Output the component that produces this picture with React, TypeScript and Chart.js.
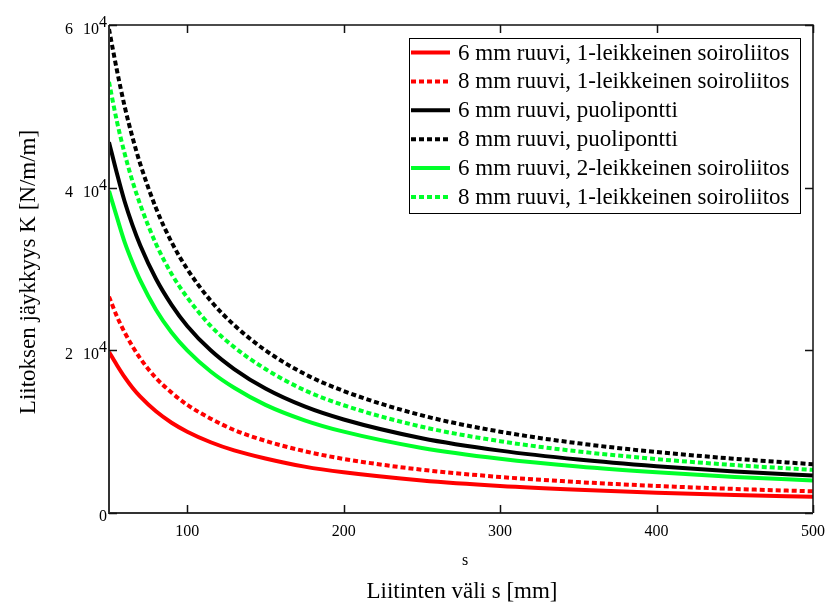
import React, { useEffect, useRef } from 'react';
import { Chart, registerables } from 'chart.js';

Chart.register(...registerables);

// Spacing between fasteners s [mm]
const sValues = [50, 55, 60, 65, 70, 80, 90, 100, 115, 130, 150, 175, 200, 250, 300, 350, 400, 450, 500];

// Stiffness K [N/m/m]
const red6 = [19800, 18200, 16700, 15400, 14300, 12500, 11100, 10000, 8700, 7700, 6700, 5700, 5000, 4000, 3330, 2860, 2500, 2220, 2000];
const red8 = [26600, 24200, 22200, 20500, 19000, 16600, 14800, 13300, 11600, 10200, 8870, 7600, 6650, 5320, 4430, 3800, 3330, 2960, 2660];
const black6 = [45600, 41800, 38300, 35400, 32900, 28800, 25600, 23000, 20000, 17700, 15300, 13100, 11500, 9200, 7670, 6570, 5750, 5110, 4600];
const black8 = [59500, 54500, 50000, 46200, 42900, 37500, 33300, 30000, 26100, 23100, 20000, 17100, 15000, 12000, 10000, 8570, 7500, 6670, 6000];
const green6 = [39600, 36400, 33300, 30800, 28600, 25000, 22200, 20000, 17400, 15400, 13300, 11400, 10000, 8000, 6670, 5710, 5000, 4440, 4000];
const green8 = [53000, 48200, 44200, 40800, 37900, 33100, 29400, 26500, 23000, 20400, 17700, 15100, 13250, 10600, 8830, 7570, 6630, 5890, 5300];

const seriesLabels = [
  '6 mm ruuvi, 1-leikkeinen soiroliitos',
  '8 mm ruuvi, 1-leikkeinen soiroliitos',
  '6 mm ruuvi, puolipontti',
  '8 mm ruuvi, puolipontti',
  '6 mm ruuvi, 2-leikkeinen soiroliitos',
  '8 mm ruuvi, 1-leikkeinen soiroliitos',
];
const seriesValues = [red6, red8, black6, black8, green6, green8];
const seriesColors = ['#ff0000', '#ff0000', '#000000', '#000000', '#00ff2a', '#00ff2a'];
const seriesDashed = [false, true, false, true, false, true];

const xTickValues = [100, 200, 300, 400, 500];
const yTickValues = [0, 20000, 40000, 60000];
const yTickMantissas = ['0', '2', '4', '6'];
const yTickExponent = '4';
const xAxisSymbol = 's';
const xTitle = 'Liitinten väli s [mm]';
const yTitle = 'Liitoksen jäykkyys K [N/m/m]';

const FONT = '"Liberation Serif", "Times New Roman", serif';
const DASH = [5, 3];

const decorPlugin = {
  id: 'decor',
  afterDatasetsDraw(chart: any) {
    const ctx = chart.ctx as CanvasRenderingContext2D;
    const a = chart.chartArea;
    const xs = chart.scales.x;
    const ys = chart.scales.y;
    ctx.save();

    // frame
    ctx.setLineDash([]);
    ctx.strokeStyle = '#111';
    ctx.lineWidth = 1.5;
    ctx.beginPath();
    ctx.moveTo(a.left, a.top);
    ctx.lineTo(a.right, a.top);
    ctx.lineTo(a.right, a.bottom);
    ctx.stroke();
    ctx.strokeStyle = '#333';
    ctx.lineWidth = 2;
    ctx.beginPath();
    ctx.moveTo(a.left, a.top);
    ctx.lineTo(a.left, a.bottom);
    ctx.lineTo(a.right, a.bottom);
    ctx.stroke();

    // ticks inward
    const tl = 8;
    ctx.strokeStyle = '#111';
    ctx.lineWidth = 1.5;
    ctx.beginPath();
    xTickValues.forEach((v) => {
      const px = Math.round(xs.getPixelForValue(v)) + 0.5;
      ctx.moveTo(px, a.bottom);
      ctx.lineTo(px, a.bottom - tl);
      ctx.moveTo(px, a.top);
      ctx.lineTo(px, a.top + tl);
    });
    yTickValues.forEach((v) => {
      const py = Math.round(ys.getPixelForValue(v)) + 0.5;
      ctx.moveTo(a.left, py);
      ctx.lineTo(a.left + tl, py);
      ctx.moveTo(a.right, py);
      ctx.lineTo(a.right - tl, py);
    });
    ctx.stroke();

    // x tick labels
    ctx.fillStyle = '#000';
    ctx.font = `16px ${FONT}`;
    ctx.textAlign = 'center';
    ctx.textBaseline = 'alphabetic';
    xTickValues.forEach((v) => {
      ctx.fillText(String(v), xs.getPixelForValue(v), a.bottom + 23);
    });

    // y tick labels with exponent
    ctx.textAlign = 'right';
    yTickValues.forEach((v, i) => {
      const py = ys.getPixelForValue(v);
      const right = a.left - 2;
      ctx.font = `16px ${FONT}`;
      if (yTickMantissas[i] === '0') {
        ctx.fillText('0', right, py + 8);
      } else {
        const expW = ctx.measureText(yTickExponent).width;
        ctx.fillText(yTickExponent, right, py + 2);
        ctx.fillText('10', right - expW, py + 9);
        const tenW = ctx.measureText('10').width;
        ctx.fillText(yTickMantissas[i], right - expW - tenW - 10, py + 9);
      }
    });

    // axis symbol and titles
    ctx.textAlign = 'center';
    ctx.font = `16px ${FONT}`;
    ctx.fillText(xAxisSymbol, 465, 565);
    ctx.font = `23px ${FONT}`;
    ctx.fillText(xTitle, 462, 598);

    ctx.save();
    ctx.translate(35, 272);
    ctx.rotate(-Math.PI / 2);
    ctx.textAlign = 'center';
    ctx.textBaseline = 'alphabetic';
    ctx.fillText(yTitle, 0, 0);
    ctx.restore();

    // legend
    const lx = 409.5, ly = 38.5, lw = 391, lh = 175;
    ctx.fillStyle = '#fff';
    ctx.fillRect(lx, ly, lw, lh);
    ctx.strokeStyle = '#000';
    ctx.lineWidth = 1;
    ctx.strokeRect(lx, ly, lw, lh);
    ctx.font = `23px ${FONT}`;
    ctx.textAlign = 'left';
    ctx.textBaseline = 'middle';
    seriesLabels.forEach((lab, i) => {
      const y = 52.5 + i * 28.9;
      ctx.strokeStyle = seriesColors[i];
      ctx.lineWidth = 4;
      ctx.setLineDash(seriesDashed[i] ? DASH : []);
      ctx.beginPath();
      ctx.moveTo(411, y);
      ctx.lineTo(450, y);
      ctx.stroke();
      ctx.setLineDash([]);
      ctx.fillStyle = '#000';
      ctx.fillText(lab, 458, y + 1);
    });

    ctx.restore();
  },
};

export default function App() {
  const ref = useRef<HTMLCanvasElement | null>(null);
  useEffect(() => {
    document.body.style.margin = '0';
    const canvas = ref.current;
    if (!canvas) return;
    const chart = new Chart(canvas, {
      type: 'line',
      data: {
        datasets: seriesValues.map((vals, i) => ({
          label: seriesLabels[i],
          data: sValues.map((s, j) => ({ x: s, y: vals[j] })),
          borderColor: seriesColors[i],
          backgroundColor: seriesColors[i],
          borderWidth: 4,
          borderDash: seriesDashed[i] ? DASH : [],
          pointRadius: 0,
          fill: false,
          cubicInterpolationMode: 'monotone' as const,
        })),
      },
      options: {
        responsive: false,
        animation: false,
        devicePixelRatio: 1,
        layout: { padding: { left: 109, right: 19, top: 25, bottom: 92 } },
        plugins: { legend: { display: false }, tooltip: { enabled: false } },
        scales: {
          x: { type: 'linear', min: 50, max: 500, display: false },
          y: { type: 'linear', min: 0, max: 60000, display: false },
        },
      },
      plugins: [decorPlugin],
    });
    return () => chart.destroy();
  }, []);
  return (
    <div style={{ width: 832, height: 605, background: '#fff' }}>
      <canvas ref={ref} width={832} height={605} style={{ width: 832, height: 605, display: 'block' }} />
    </div>
  );
}
